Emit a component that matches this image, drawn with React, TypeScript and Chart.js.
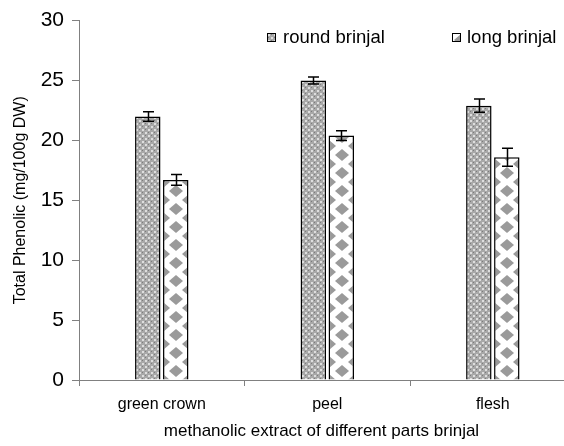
import React, { useEffect, useRef } from "react";
import { Chart, registerables } from "chart.js";
Chart.register(...registerables);

const categories = ["green crown", "peel", "flesh"];
const seriesNames = ["round brinjal", "long brinjal"];
const roundValues = [22.0, 25.0, 22.9];
const roundErrors = [0.4, 0.3, 0.55];
const longValues = [16.7, 20.4, 18.6];
const longErrors = [0.45, 0.4, 0.75];
const yTickValues = [0, 5, 10, 15, 20, 25, 30];
const yTitle = "Total Phenolic (mg/100g DW)";
const xTitle = "methanolic extract of different parts brinjal";

const FONT = "'Liberation Sans', Arial, sans-serif";
const AXIS = "#808080";

function makeTile(w: number, h: number, draw: (g: CanvasRenderingContext2D) => void) {
  const c = document.createElement("canvas");
  c.width = w;
  c.height = h;
  const g = c.getContext("2d")!;
  draw(g);
  return c;
}

const roundTile = makeTile(6, 6, (g) => {
  g.fillStyle = "#a8a8a8";
  g.fillRect(0, 0, 6, 6);
  g.fillStyle = "#dedede";
  g.fillRect(1, 1, 2, 2);
  g.fillRect(4, 4, 2, 2);
  g.fillStyle = "#7c7c7c";
  g.fillRect(4, 1, 1, 1);
  g.fillRect(1, 4, 1, 1);
});

const longTile = makeTile(26, 18, (g) => {
  g.fillStyle = "#ffffff";
  g.fillRect(0, 0, 26, 18);
  g.fillStyle = "#9a9a9a";
  const dia = (cx: number, cy: number) => {
    g.beginPath();
    g.moveTo(cx - 7, cy);
    g.lineTo(cx, cy - 6);
    g.lineTo(cx + 7, cy);
    g.lineTo(cx, cy + 6);
    g.closePath();
    g.fill();
  };
  dia(13, 9);
  dia(0, 0);
  dia(26, 0);
  dia(0, 18);
  dia(26, 18);
});

const BAR_SLOT = 14;
const BAR_HALF = 12.75;

function patternFor(chart: any, tile: HTMLCanvasElement, left: number, top: number) {
  const p = chart.ctx.createPattern(tile, "repeat");
  try {
    p.setTransform(new DOMMatrix().translate(left, top));
  } catch (e) {}
  return p;
}

function barBg(tile: HTMLCanvasElement, side: number) {
  return (c: any) => {
    const chart = c.chart;
    let left = 0;
    let top = 0;
    try {
      const xs = chart.scales.x;
      const ys = chart.scales.y;
      if (xs && c.dataIndex !== undefined) {
        left = xs.getPixelForValue(c.dataIndex) + side * BAR_SLOT - BAR_HALF;
        top = ys.getPixelForValue(0);
      }
    } catch (e) {}
    return patternFor(chart, tile, Math.round(left), Math.round(top));
  };
}

const errorBarPlugin = {
  id: "errorBars",
  afterDatasetsDraw(chart: any) {
    const ctx = chart.ctx;
    const ys = chart.scales.y;
    const errs = [roundErrors, longErrors];
    const vals = [roundValues, longValues];
    ctx.save();
    ctx.strokeStyle = "#000";
    ctx.lineWidth = 1.5;
    chart.data.datasets.forEach((_: any, di: number) => {
      const meta = chart.getDatasetMeta(di);
      meta.data.forEach((el: any, i: number) => {
        const x = Math.round(el.x) + 0.5;
        const yt = ys.getPixelForValue(vals[di][i] + errs[di][i]);
        const yb = ys.getPixelForValue(vals[di][i] - errs[di][i]);
        ctx.beginPath();
        ctx.moveTo(x, yt);
        ctx.lineTo(x, yb);
        ctx.moveTo(x - 5.5, yt);
        ctx.lineTo(x + 5.5, yt);
        ctx.moveTo(x - 5.5, yb);
        ctx.lineTo(x + 5.5, yb);
        ctx.stroke();
      });
    });
    ctx.restore();
  },
};

const legendPlugin = {
  id: "customLegend",
  afterDraw(chart: any) {
    const ctx = chart.ctx;
    const items = [
      { tile: roundTile, x: 267, tx: 283, label: seriesNames[0] },
      { tile: longTile, x: 452, tx: 467, label: seriesNames[1] },
    ];
    ctx.save();
    items.forEach((it, i) => {
      const p = patternFor(chart, it.tile, it.x - (i === 1 ? 4 : 0), 33 - (i === 1 ? 2 : 0));
      ctx.fillStyle = p;
      ctx.fillRect(it.x, 33, 9, 9);
      ctx.strokeStyle = "#000";
      ctx.lineWidth = 1;
      ctx.strokeRect(it.x + 0.5, 33.5, 8, 8);
      ctx.fillStyle = "#000";
      ctx.font = `18.5px ${FONT}`;
      ctx.textBaseline = "middle";
      ctx.textAlign = "left";
      ctx.fillText(it.label, it.tx, 38);
    });
    ctx.restore();
  },
};

export default function App() {
  const ref = useRef<HTMLCanvasElement>(null);
  useEffect(() => {
    if (!ref.current) return;
    const chart = new Chart(ref.current, {
      type: "bar",
      data: {
        datasets: [
          {
            label: seriesNames[0],
            data: roundValues.map((v, i) => ({ x: i, y: v })),
            backgroundColor: barBg(roundTile, -1) as any,
            borderColor: "#000",
            borderWidth: 1.5,
            categoryPercentage: 0.676,
            barPercentage: 0.91,
          },
          {
            label: seriesNames[1],
            data: longValues.map((v, i) => ({ x: i, y: v })),
            backgroundColor: barBg(longTile, 1) as any,
            borderColor: "#000",
            borderWidth: 1.5,
            categoryPercentage: 0.676,
            barPercentage: 0.91,
          },
        ],
      },
      options: {
        animation: false,
        responsive: false,
        devicePixelRatio: 1,
        events: [],
        layout: { padding: { top: 18, left: 0, right: 0, bottom: 0 } },
        plugins: { legend: { display: false }, tooltip: { enabled: false } },
        scales: {
          x: {
            type: "linear",
            min: -0.5,
            max: 2.43,
            offset: false,
            afterBuildTicks: (s: any) => {
              const t: any[] = [];
              for (let i = 0; i < categories.length; i++) {
                t.push({ value: i - 0.5 });
                t.push({ value: i });
              }
              s.ticks = t;
            },
            afterFit: (s: any) => {
              s.height = 66;
            },
            grid: {
              offset: false,
              drawOnChartArea: false,
              tickLength: 6,
              tickColor: (c: any) =>
                c.tick && Number.isInteger(c.tick.value) ? "rgba(0,0,0,0)" : AXIS,
            },
            border: { color: AXIS, width: 1 },
            ticks: {
              autoSkip: false,
              maxRotation: 0,
              padding: 9,
              color: "#000",
              font: { family: FONT, size: 16 },
              callback: (v: any) => (Number.isInteger(v) ? categories[v] : ""),
            },
            title: {
              display: true,
              text: xTitle,
              color: "#000",
              font: { family: FONT, size: 17 },
              padding: { top: 0, bottom: 4 },
            },
          },
          y: {
            min: 0,
            max: 30,
            afterBuildTicks: (s: any) => {
              s.ticks = yTickValues.map((v) => ({ value: v }));
            },
            afterFit: (s: any) => {
              s.width = 79;
            },
            grid: { drawOnChartArea: false, tickLength: 7, color: AXIS },
            border: { color: AXIS, width: 1 },
            ticks: {
              padding: 8,
              color: "#000",
              font: { family: FONT, size: 21 },
            },
            title: {
              display: true,
              text: yTitle,
              color: "#000",
              font: { family: FONT, size: 16 },
              padding: { top: 11, bottom: 0 },
            },
          },
        },
      },
      plugins: [errorBarPlugin, legendPlugin],
    });
    return () => chart.destroy();
  }, []);
  return (
    <div style={{ position: "absolute", left: 0, top: 0, width: 564, height: 446 }}>
      <canvas ref={ref} width={564} height={446} />
    </div>
  );
}
